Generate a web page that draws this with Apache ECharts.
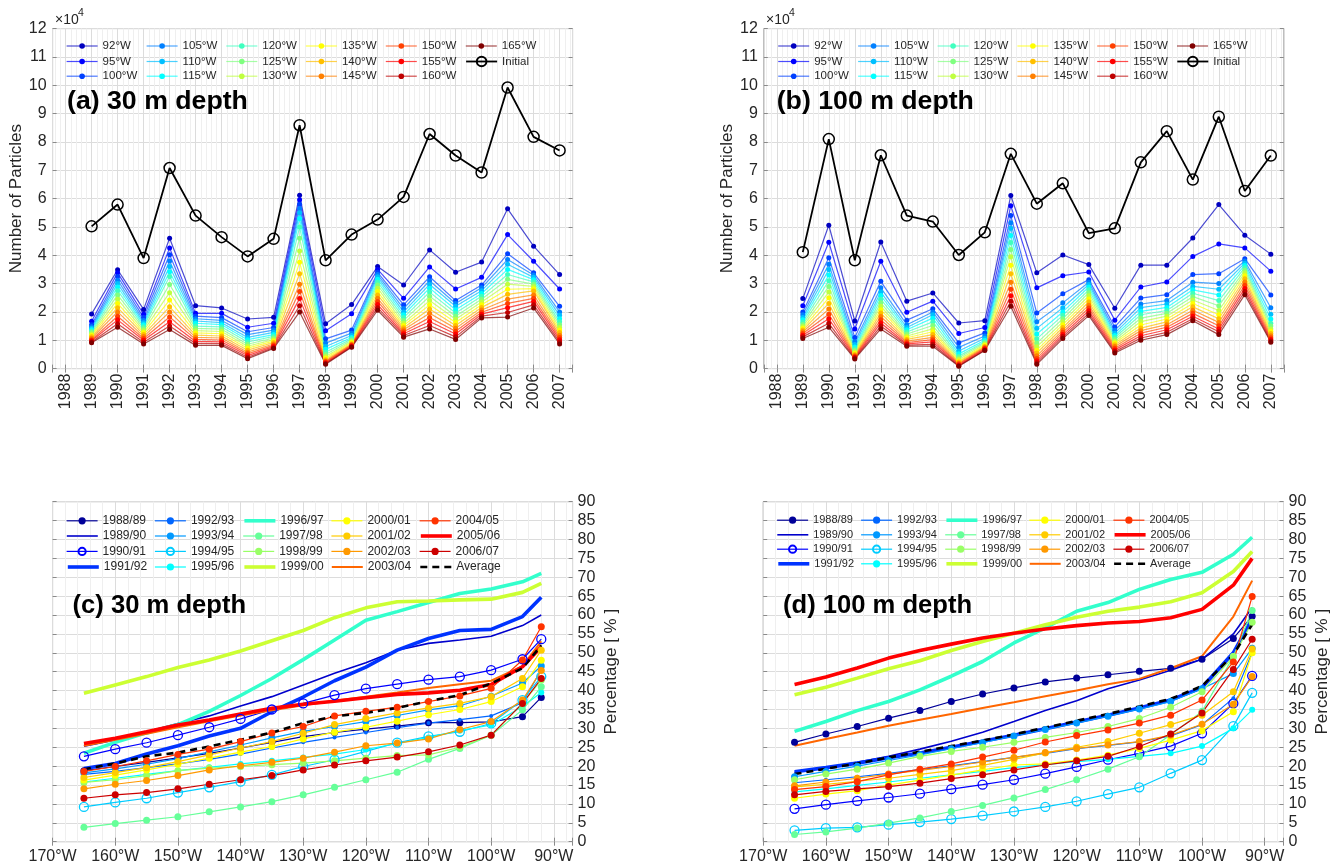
<!DOCTYPE html>
<html>
<head>
<meta charset="utf-8">
<title>Particles reaching longitudes</title>
<script src="https://cdn.jsdelivr.net/npm/echarts@6.0.0/dist/echarts.min.js"></script>
<style>
html,body{margin:0;padding:0;background:#ffffff;}
#chart{width:1338px;height:868px;}
</style>
</head>
<body>
<div id="chart"></div>
<script>
// ================= DATA =================
const years = [1989,1990,1991,1992,1993,1994,1995,1996,1997,1998,1999,2000,2001,2002,2003,2004,2005,2006,2007];
const lonNames = ['92°W','95°W','100°W','105°W','110°W','115°W','120°W','125°W','130°W','135°W','140°W','145°W','150°W','155°W','160°W','165°W'];

// (a) 30 m depth, number of particles (x10^4)
const initial30 = [5.02,5.79,3.9,7.08,5.4,4.64,3.96,4.58,8.59,3.82,4.73,5.26,6.06,8.28,7.52,6.92,9.92,8.18,7.7];
const n30_092 = [1.93,3.49,2.09,4.6,2.22,2.14,1.75,1.81,6.12,1.58,2.26,3.6,2.95,4.19,3.4,3.76,5.64,4.32,3.32];
const n30_095 = [1.67,3.38,1.92,4.26,1.95,1.95,1.46,1.6,5.96,1.34,1.94,3.5,2.48,3.59,2.81,3.22,4.73,3.79,2.81];
const n30_100 = [1.55,3.25,1.8,4.02,1.85,1.8,1.3,1.45,5.8,1.05,1.36,3.4,2.25,3.24,2.4,2.95,4.05,3.38,2.2];
const n30_105 = [1.48,3.12,1.7,3.8,1.76,1.7,1.2,1.36,5.65,0.9,1.25,3.32,2.12,3.1,2.3,2.85,3.85,3.3,2.0];
const n30_110 = [1.42,3.0,1.62,3.6,1.68,1.62,1.1,1.28,5.5,0.78,1.17,3.24,2.0,2.97,2.2,2.75,3.68,3.22,1.88];
const n30_115 = [1.37,2.88,1.55,3.42,1.6,1.55,1.02,1.2,5.3,0.68,1.1,3.15,1.9,2.84,2.08,2.65,3.5,3.14,1.76];
const n30_120 = [1.32,2.75,1.48,3.25,1.5,1.47,0.94,1.14,5.0,0.58,1.05,3.05,1.8,2.7,1.96,2.55,3.32,3.06,1.65];
const n30_125 = [1.27,2.6,1.41,2.97,1.42,1.39,0.86,1.08,4.6,0.5,1.0,2.95,1.7,2.55,1.85,2.45,3.15,2.98,1.55];
const n30_130 = [1.22,2.45,1.34,2.68,1.34,1.31,0.79,1.02,4.15,0.43,0.96,2.84,1.6,2.4,1.74,2.35,2.98,2.9,1.45];
const n30_135 = [1.17,2.3,1.27,2.42,1.26,1.23,0.72,0.97,3.75,0.37,0.92,2.72,1.52,2.25,1.63,2.25,2.8,2.82,1.36];
const n30_140 = [1.12,2.15,1.2,2.18,1.18,1.15,0.65,0.92,3.35,0.31,0.88,2.6,1.44,2.1,1.52,2.16,2.62,2.74,1.27];
const n30_145 = [1.07,2.0,1.13,2.0,1.1,1.08,0.58,0.87,2.98,0.27,0.85,2.48,1.37,1.95,1.42,2.07,2.45,2.6,1.18];
const n30_150 = [1.02,1.85,1.06,1.82,1.03,1.01,0.52,0.82,2.72,0.24,0.82,2.37,1.3,1.8,1.32,1.99,2.3,2.48,1.1];
const n30_155 = [0.98,1.72,1.0,1.65,0.96,0.94,0.46,0.78,2.47,0.21,0.8,2.26,1.23,1.66,1.22,1.92,2.15,2.37,1.02];
const n30_160 = [0.94,1.58,0.93,1.5,0.89,0.88,0.4,0.74,2.22,0.18,0.77,2.15,1.17,1.52,1.12,1.85,1.98,2.25,0.94];
const n30_165 = [0.91,1.46,0.87,1.38,0.82,0.82,0.35,0.71,2.0,0.15,0.75,2.06,1.11,1.4,1.03,1.79,1.82,2.14,0.87];

// (b) 100 m depth, number of particles (x10^4)
const initial100 = [4.11,8.1,3.82,7.53,5.4,5.19,4.01,4.81,7.58,5.82,6.54,4.78,4.95,7.28,8.38,6.67,8.89,6.27,7.52];
const n100_092 = [2.47,5.06,1.68,4.47,2.38,2.67,1.61,1.69,6.11,3.38,4.01,3.67,2.13,3.65,3.65,4.61,5.79,4.71,4.04];
const n100_095 = [2.22,4.46,1.4,3.79,1.99,2.38,1.24,1.45,5.75,2.85,3.28,3.41,1.71,2.88,3.06,3.96,4.4,4.26,3.44];
const n100_100 = [2.0,3.91,1.1,3.08,1.71,2.11,0.91,1.26,5.4,1.96,2.64,3.14,1.47,2.49,2.61,3.32,3.35,3.88,2.6];
const n100_105 = [1.9,3.68,0.95,2.85,1.55,2.0,0.75,1.15,5.15,1.65,2.32,3.05,1.35,2.28,2.4,3.05,3.0,3.8,2.15];
const n100_110 = [1.8,3.5,0.85,2.7,1.45,1.9,0.62,1.07,4.95,1.42,2.15,2.97,1.25,2.15,2.28,2.9,2.8,3.72,1.92];
const n100_115 = [1.72,3.3,0.76,2.58,1.37,1.78,0.52,1.0,4.7,1.22,2.0,2.88,1.17,2.02,2.16,2.78,2.6,3.64,1.75];
const n100_120 = [1.64,3.1,0.7,2.45,1.29,1.65,0.44,0.95,4.45,1.05,1.88,2.78,1.1,1.9,2.05,2.66,2.4,3.56,1.6];
const n100_125 = [1.56,2.9,0.64,2.32,1.22,1.52,0.38,0.9,4.2,0.9,1.76,2.68,1.03,1.78,1.95,2.54,2.22,3.47,1.5];
const n100_130 = [1.49,2.7,0.59,2.2,1.15,1.4,0.32,0.86,3.95,0.77,1.65,2.57,0.96,1.66,1.85,2.42,2.05,3.38,1.4];
const n100_135 = [1.42,2.5,0.54,2.08,1.09,1.3,0.27,0.82,3.65,0.65,1.55,2.46,0.9,1.54,1.75,2.3,1.9,3.28,1.32];
const n100_140 = [1.36,2.3,0.5,1.96,1.03,1.2,0.23,0.78,3.35,0.55,1.45,2.35,0.84,1.43,1.65,2.18,1.76,3.17,1.24];
const n100_145 = [1.3,2.1,0.46,1.84,0.97,1.1,0.19,0.75,3.05,0.45,1.36,2.24,0.78,1.34,1.55,2.06,1.63,3.06,1.16];
const n100_150 = [1.24,1.92,0.43,1.72,0.92,1.02,0.16,0.72,2.8,0.36,1.28,2.14,0.72,1.25,1.46,1.95,1.51,2.94,1.09];
const n100_155 = [1.18,1.76,0.4,1.61,0.87,0.94,0.13,0.69,2.57,0.28,1.2,2.04,0.66,1.16,1.37,1.85,1.4,2.83,1.03];
const n100_160 = [1.12,1.6,0.37,1.5,0.83,0.86,0.1,0.66,2.38,0.21,1.13,1.95,0.6,1.08,1.28,1.76,1.3,2.72,0.97];
const n100_165 = [1.06,1.46,0.34,1.4,0.79,0.79,0.08,0.64,2.2,0.15,1.06,1.87,0.55,1.0,1.2,1.69,1.2,2.61,0.93];

// (c)/(d) percentage vs release longitude (negative = degrees West)
const lonPoints = [-165,-160,-155,-150,-145,-140,-135,-130,-125,-120,-115,-110,-105,-100,-95,-92];
const seasonNames = ['1988/89','1989/90','1990/91','1991/92','1992/93','1993/94','1994/95','1995/96','1996/97','1997/98',
  '1998/99','1999/00','2000/01','2001/02','2002/03','2003/04','2004/05','2005/06','2006/07','Average'];

// (c) 30 m depth
const p30_1988 = [18.8,19.9,21,22.2,23.4,24.8,26.3,27.8,28.9,29.8,30.6,31.5,31.5,31.7,33.1,38.2];
const p30_1989 = [25.3,26.9,29.1,31.3,33.3,35.9,38.4,41.5,44.6,47.4,50.7,52.5,53.4,54.4,57.2,60];
const p30_1990 = [22.6,24.5,26.2,28.2,30.3,32.5,35,36.6,38.8,40.5,41.7,42.9,43.7,45.4,48.3,53.6];
const p30_1991 = [19.4,20.7,23.2,25.4,28,30,34.4,38.3,42.6,46.2,50.7,53.8,55.9,56.2,59.6,64.7];
const p30_1992 = [17.8,18.6,19.6,20.6,21.8,23.2,24.8,26.3,27.6,28.9,30.2,31.4,32.3,33.3,36.8,45.5];
const p30_1993 = [18.2,19.3,20.5,22,23.8,25.6,27.5,29.2,30.5,31.8,33.4,34.9,36,38.5,42,46.5];
const p30_1994 = [9.2,10.4,11.5,13,14.4,15.9,17.7,19.9,21.7,23.9,26.2,27.9,29.1,31.3,37.5,43.7];
const p30_1995 = [15.8,16.8,17.8,18.8,19.7,20.6,21.4,22.3,23.2,24.4,26,27.6,29.4,30.9,35.8,39.5];
const p30_1996 = [23.4,26.3,28.8,31,34.5,38.7,43.2,48.2,53.4,58.6,60.9,63.3,65.7,66.9,68.8,71];
const p30_1997 = [3.8,4.8,5.7,6.6,7.9,9.2,10.6,12.4,14.4,16.4,18.4,21.8,24.7,28.2,34.9,41];
const p30_1998 = [15.7,16.4,17.5,18.8,19.5,19.9,20.4,20.8,21.4,22.1,22.8,23,25,28.2,36.6,42.8];
const p30_1999 = [39.3,41.5,43.7,46.1,48.1,50.5,53.2,55.9,59.3,61.9,63.5,63.7,64,64.2,66,68.4];
const p30_2000 = [16.3,17.6,19,20.5,22.1,23.7,25.2,27.2,29,30.3,31.9,33.6,35,37.1,41,48];
const p30_2001 = [17,18.3,19.6,21.2,23,24.8,26.5,28.7,31,32.6,34.1,35.4,36.6,38.4,43.2,50.7];
const p30_2002 = [14,15.2,16.2,17.5,19,20.1,21,22.1,23.7,25.4,26.1,27.2,29.7,31.8,37.5,45.3];
const p30_2003 = [25.4,27,28.6,30.3,31.9,33.4,34.8,36.1,37.3,38.4,39.5,40.7,41.7,42.6,46.5,53];
const p30_2004 = [18.6,19.9,21.4,23.1,24.5,26.5,28.8,30.5,33.3,34.5,35.6,37.1,38.6,40.6,48.1,56.9];
const p30_2005 = [26,27.4,29.1,30.9,32.2,33.8,35.3,36.4,37.2,38.1,39,39.4,40.1,41.6,46.3,51.6];
const p30_2006 = [11.5,12.4,13,14,15.2,16.4,17.5,19,20.3,21.4,22.4,23.8,25.6,28.2,36.6,43.2];
const p30_avg  = [19.2,20.7,22.6,23.6,25.2,27,28.9,31.4,33.2,34.1,35.4,37.2,38.8,41.9,45.9,52];

// (d) 100 m depth
const p100_1988 = [26.3,28.5,30.5,32.7,34.7,37.1,39.1,40.7,42.3,43.3,44.2,45.1,45.9,48.3,53.8,59.7];
const p100_1989 = [18.4,19.6,21,22.6,24.5,26.6,29,31.8,34.7,37.3,40.5,42.8,45.4,48.3,55,62];
const p100_1990 = [8.7,9.8,10.8,11.7,12.7,13.9,15.1,16.4,18,19.8,21.7,23.4,25.3,28.7,36.6,43.9];
const p100_1991 = [18.5,19.6,20.8,22.2,23.5,25,26.6,28.2,29.9,31.7,33.5,35.4,37.5,40.8,50,59];
const p100_1992 = [15.6,16.4,17.2,18.1,19.1,20.1,21.2,22.3,23.4,24.6,25.5,26.4,28,31,38,50];
const p100_1993 = [17.2,18.6,20,21.5,23,24.6,26.2,28,29.7,31.4,33.2,35.1,37.1,40.5,44.5,51.2];
const p100_1994 = [3,3.6,3.8,4.5,5.2,6,6.9,8,9.2,10.7,12.6,14.4,18.1,21.6,30.6,39.4];
const p100_1995 = [13.2,14,14.9,15.8,16.8,17.7,18.6,19.6,20.4,21.2,21.8,22.6,23.4,25.3,30,34.9];
const p100_1996 = [29.2,31.8,34.7,37.1,40.2,43.8,47.7,52.6,56.6,61,63.3,66.8,69.4,71.3,76.1,80.6];
const p100_1997 = [1.9,2.6,3.6,4.9,6.3,8,9.6,11.6,13.8,16.4,19.2,22.5,28.3,34.5,49,61.2];
const p100_1998 = [16.4,17.9,19.2,20.8,22.6,23.9,25,26.3,27.6,28.9,30.5,32.6,35.6,39.7,49,58.1];
const p100_1999 = [38.9,40.9,43.3,45.8,47.9,50.6,53,55.2,57.4,59.4,61,62.1,63.5,65.9,71.5,76.8];
const p100_2000 = [11.5,12.6,13.5,15,16.3,17.6,19,20.3,20.6,21.6,22.9,24.7,26.9,29.4,34.4,50];
const p100_2001 = [14.5,15.2,16,16.8,17.8,18.8,20.2,21.8,23.5,25,26.5,28.7,31,33.5,39.7,51];
const p100_2002 = [14.8,15.8,16.8,17.9,18.9,19.9,21.1,22.3,23.6,24.7,25.6,26.5,28.2,31.1,36.4,43.7];
const p100_2003 = [25.4,27.2,28.9,30.7,32.3,33.8,35.4,36.9,38.5,40,41.7,43.1,45.9,49.1,59.6,69.1];
const p100_2004 = [13.8,14.6,15.9,17.7,19.2,20.6,22.4,24.2,26.4,28.1,29.6,31.4,33.5,37.5,47.6,64.9];
const p100_2005 = [41.6,43.6,46,48.6,50.6,52.3,53.9,55.2,56.3,57.2,57.9,58.3,59.3,61.5,67.9,75];
const p100_2006 = [12.4,13.3,14,14.6,15.5,16.7,17.7,19,20.3,21.4,22.6,25.2,28.5,34.1,45.6,53.6];
const p100_avg  = [17.9,19.3,20.7,22.3,23.8,25.3,26.8,28.4,30.2,32,33.8,35.8,37.8,41.2,49.5,57.5];

// ================= STYLE =================
const FONT = '"Liberation Sans", Arial, Helvetica, sans-serif';
const TXT = '#262626';
const GRIDC = '#dcdcdc';
const MINORC = '#efefef';
const FRAME = '#a3a3a3';
const TICKC = '#8a8a8a';

const jet16 = ['#0000bf','#0000ff','#0040ff','#0080ff','#00bfff','#00ffff','#40ffbf','#80ff80',
  '#bfff40','#ffff00','#ffbf00','#ff8000','#ff4000','#ff0000','#bf0000','#800000'];
const jet19 = ['#000099','#0000cc','#0000ff','#0033ff','#0066ff','#0099ff','#00ccff','#00ffff','#33ffcc','#66ff99',
  '#99ff66','#ccff33','#ffff00','#ffcc00','#ff9900','#ff6600','#ff3300','#ff0000','#cc0000','#000000'];
// marker kind per season: dot / open / none
const seasonSym  = ['dot','none','open','none','dot','dot','open','dot','none','dot','dot','none','dot','dot','dot','none','dot','none','dot','none'];
const seasonSize = [7,0,9,0,4,7,9,6,0,7,7,0,7,7,7,0,7,0,7,0];
const seasonW    = [1.2,1.6,1.2,3.6,1.2,1.2,1.2,1.2,3.6,1.2,1.2,3.6,1.2,1.2,1.2,2,1.2,3.6,1.2,2.6];

const lines30 = [n30_092,n30_095,n30_100,n30_105,n30_110,n30_115,n30_120,n30_125,n30_130,n30_135,n30_140,n30_145,n30_150,n30_155,n30_160,n30_165];
const lines100 = [n100_092,n100_095,n100_100,n100_105,n100_110,n100_115,n100_120,n100_125,n100_130,n100_135,n100_140,n100_145,n100_150,n100_155,n100_160,n100_165];
const pct30 = [p30_1988,p30_1989,p30_1990,p30_1991,p30_1992,p30_1993,p30_1994,p30_1995,p30_1996,p30_1997,p30_1998,p30_1999,p30_2000,p30_2001,p30_2002,p30_2003,p30_2004,p30_2005,p30_2006,p30_avg];
const pct100 = [p100_1988,p100_1989,p100_1990,p100_1991,p100_1992,p100_1993,p100_1994,p100_1995,p100_1996,p100_1997,p100_1998,p100_1999,p100_2000,p100_2001,p100_2002,p100_2003,p100_2004,p100_2005,p100_2006,p100_avg];

// ================= LAYOUT =================
const grids = [
  {left:52.6, top:28.6, width:520, height:340, show:true, borderColor:FRAME, borderWidth:1, backgroundColor:'#fff'},
  {left:763.8, top:28.6, width:520, height:340, show:true, borderColor:FRAME, borderWidth:1, backgroundColor:'#fff'},
  {left:52.6, top:501.7, width:520, height:340, show:true, borderColor:FRAME, borderWidth:1, backgroundColor:'#fff'},
  {left:763.2, top:501.7, width:520.3, height:340, show:true, borderColor:FRAME, borderWidth:1, backgroundColor:'#fff'}
];

function yearAxis(gi, mirror) {
  return {
    type:'value', gridIndex:gi, position: mirror ? 'top' : 'bottom',
    min:1987.5, max:2007.5, splitNumber:20,
    axisLine:{show:false},
    axisTick:{show:true, inside:true, length:4, lineStyle:{color:TICKC}},
    axisLabel:{show:!mirror, rotate:90, fontSize:16, fontFamily:FONT, color:TXT, margin:5,
      formatter: v => (Math.abs(v - Math.round(v)) < 1e-6) ? String(Math.round(v)) : ''},
    splitLine:{show:!mirror, lineStyle:{color:GRIDC, width:1}},
    minorTick:{show:false, splitNumber:5},
    minorSplitLine:{show:!mirror, lineStyle:{color:MINORC, width:1}}
  };
}
function countAxis(gi, mirror) {
  return {
    type:'value', gridIndex:gi, position: mirror ? 'right' : 'left',
    min:0, max:12, interval:1,
    axisLine:{show:false},
    axisTick:{show:true, inside:true, length:4, lineStyle:{color:TICKC}},
    axisLabel:{show:!mirror, fontSize:16, fontFamily:FONT, color:TXT, margin:6},
    splitLine:{show:!mirror, lineStyle:{color:GRIDC, width:1}},
    name: mirror ? '' : 'Number of Particles', nameLocation:'middle', nameGap:27,
    nameTextStyle:{fontSize:17, fontFamily:FONT, color:TXT}
  };
}
function lonAxis(gi, mirror) {
  return {
    type:'value', gridIndex:gi, position: mirror ? 'top' : 'bottom',
    min:-170, max:-87, interval:10,
    axisLine:{show:false},
    axisTick:{show:true, inside:true, length:4, lineStyle:{color:TICKC}},
    axisLabel:{show:!mirror, fontSize:16, fontFamily:FONT, color:TXT, margin:7,
      formatter: v => (Math.abs(v % 10) < 1e-6) ? (Math.abs(v) + '°W') : ''},
    splitLine:{show:!mirror, lineStyle:{color:GRIDC, width:1}},
    minorTick:{show:false, splitNumber:5},
    minorSplitLine:{show:!mirror, lineStyle:{color:MINORC, width:1}}
  };
}
function pctAxis(gi, mirror) {
  return {
    type:'value', gridIndex:gi, position: mirror ? 'left' : 'right',
    min:0, max:90, interval:5,
    axisLine:{show:false},
    axisTick:{show:true, inside:true, length:4, lineStyle:{color:TICKC}},
    axisLabel:{show:!mirror, fontSize:16, fontFamily:FONT, color:TXT, margin:5},
    splitLine:{show:!mirror, lineStyle:{color:GRIDC, width:1}},
    name: mirror ? '' : 'Percentage [ % ]', nameLocation:'middle', nameGap:30, nameRotate:90,
    nameTextStyle:{fontSize:17, fontFamily:FONT, color:TXT}
  };
}

const xAxes = [yearAxis(0,false), yearAxis(0,true), yearAxis(1,false), yearAxis(1,true),
               lonAxis(2,false), lonAxis(2,true), lonAxis(3,false), lonAxis(3,true)];
const yAxes = [countAxis(0,false), countAxis(0,true), countAxis(1,false), countAxis(1,true),
               pctAxis(2,false), pctAxis(2,true), pctAxis(3,false), pctAxis(3,true)];

const series = [];
function addTop(lines, initial, xi, yi) {
  lines.forEach((vals, i) => {
    series.push({
      type:'line', name: lonNames[i], xAxisIndex:xi, yAxisIndex:yi,
      data: years.map((y, k) => [y, vals[k]]),
      color: jet16[i], symbol:'circle', symbolSize:5,
      lineStyle:{width:1.2, color: jet16[i], opacity:0.7},
      itemStyle:{color: jet16[i]},
      silent:true, animation:false, z:2
    });
  });
  series.push({
    type:'line', name:'Initial', xAxisIndex:xi, yAxisIndex:yi,
    data: years.map((y, k) => [y, initial[k]]),
    color:'#000', symbol:'circle', symbolSize:11,
    lineStyle:{width:1.8, color:'#000'},
    itemStyle:{color:'rgba(0,0,0,0)', borderColor:'#000', borderWidth:1.5},
    silent:true, animation:false, z:3
  });
}
function addBottom(sets, xi, yi) {
  sets.forEach((vals, i) => {
    const c = jet19[i];
    const kind = seasonSym[i];
    const s = {
      type:'line', name: seasonNames[i], xAxisIndex:xi, yAxisIndex:yi,
      data: lonPoints.map((x, k) => [x, vals[k]]),
      color: c,
      lineStyle:{width: seasonW[i], color: c, type: (i === 19 ? [7, 5] : 'solid')},
      silent:true, animation:false, z:2
    };
    if (kind === 'none') {
      s.symbol = 'none';
      s.itemStyle = {color: c};
    } else if (kind === 'open') {
      s.symbol = 'circle'; s.symbolSize = seasonSize[i];
      s.itemStyle = {color:'rgba(0,0,0,0)', borderColor:c, borderWidth:1.3};
    } else {
      s.symbol = 'circle'; s.symbolSize = seasonSize[i];
      s.itemStyle = {color:c};
    }
    series.push(s);
  });
}
addTop(lines30, initial30, 0, 0);
addTop(lines100, initial100, 2, 2);
addBottom(pct30, 4, 4);
addBottom(pct100, 6, 6);

// ================= LEGENDS =================
const legends = [];
function legendAt(item, left, cy, fs, ih) {
  legends.push({
    show:true, selectedMode:false, orient:'horizontal', left:left, top:cy - 7, padding:0,
    itemWidth:31, itemHeight:ih, itemGap:0,
    textStyle:{fontSize:fs, fontFamily:FONT, color:TXT, lineHeight:14},
    data:[item], z:10
  });
}
const topColsA = [66, 146, 225.7, 305.3, 385.2, 465.2];
const topColsB = [777.6, 857.5, 937, 1016.8, 1096.6, 1176.4];
const topRows = [46, 61.5, 76.2];
const topNames = lonNames.concat(['Initial']);
topNames.forEach((nm, i) => {
  const col = Math.floor(i / 3), row = i % 3;
  const isInit = nm === 'Initial';
  const ih = isInit ? 12 : 7;
  const mk = () => ({name:nm, lineStyle:{width: isInit ? 1.8 : 1.2}});
  legendAt(mk(), topColsA[col], topRows[row], 11.5, ih);
  legendAt(mk(), topColsB[col], topRows[row], 11.5, ih);
});
const botColsC = [66, 154.3, 242.6, 330.8, 419];
const botRowsC = [520.8, 536, 551.4, 567];
const botColsD = [776.5, 860.5, 944.6, 1028.7, 1112.8];
const botRowsD = [520.2, 534.8, 549.2, 563.8];
seasonNames.forEach((nm, i) => {
  const col = Math.floor(i / 4), row = i % 4;
  const mk = () => {
    const item = {name:nm, lineStyle:{width: seasonW[i], type: (i === 19 ? [7, 5] : 'solid')}};
    if (seasonSym[i] === 'none') item.itemStyle = {opacity:0};
    return item;
  };
  legendAt(mk(), botColsC[col], botRowsC[row], 12, 9);
  legendAt(mk(), botColsD[col], botRowsD[row], 11, 9);
});

// ================= TEXT =================
const graphics = [
  {type:'text', x:67, y:101.5, z:20, style:{text:'(a) 30 m depth', fontSize:26.7, fontWeight:'bold', fontFamily:FONT, fill:'#000', verticalAlign:'middle'}},
  {type:'text', x:776.7, y:101.5, z:20, style:{text:'(b) 100 m depth', fontSize:26.7, fontWeight:'bold', fontFamily:FONT, fill:'#000', verticalAlign:'middle'}},
  {type:'text', x:72.6, y:606, z:20, style:{text:'(c) 30 m depth', fontSize:25.6, fontWeight:'bold', fontFamily:FONT, fill:'#000', verticalAlign:'middle'}},
  {type:'text', x:783, y:606, z:20, style:{text:'(d) 100 m depth', fontSize:25.6, fontWeight:'bold', fontFamily:FONT, fill:'#000', verticalAlign:'middle'}},
  {type:'text', x:55, y:20, z:20, style:{text:'×10', fontSize:14, fontFamily:FONT, fill:TXT, verticalAlign:'middle'}},
  {type:'text', x:78, y:13.5, z:20, style:{text:'4', fontSize:10.5, fontFamily:FONT, fill:TXT, verticalAlign:'middle'}},
  {type:'text', x:766, y:20, z:20, style:{text:'×10', fontSize:14, fontFamily:FONT, fill:TXT, verticalAlign:'middle'}},
  {type:'text', x:789, y:13.5, z:20, style:{text:'4', fontSize:10.5, fontFamily:FONT, fill:TXT, verticalAlign:'middle'}}
];

const chart = echarts.init(document.getElementById('chart'), null, {renderer:'canvas', width:1338, height:868});
chart.setOption({
  backgroundColor:'#ffffff',
  animation:false,
  textStyle:{fontFamily:FONT},
  grid: grids,
  xAxis: xAxes,
  yAxis: yAxes,
  legend: legends,
  series: series,
  graphic: graphics
});
</script>
</body>
</html>
